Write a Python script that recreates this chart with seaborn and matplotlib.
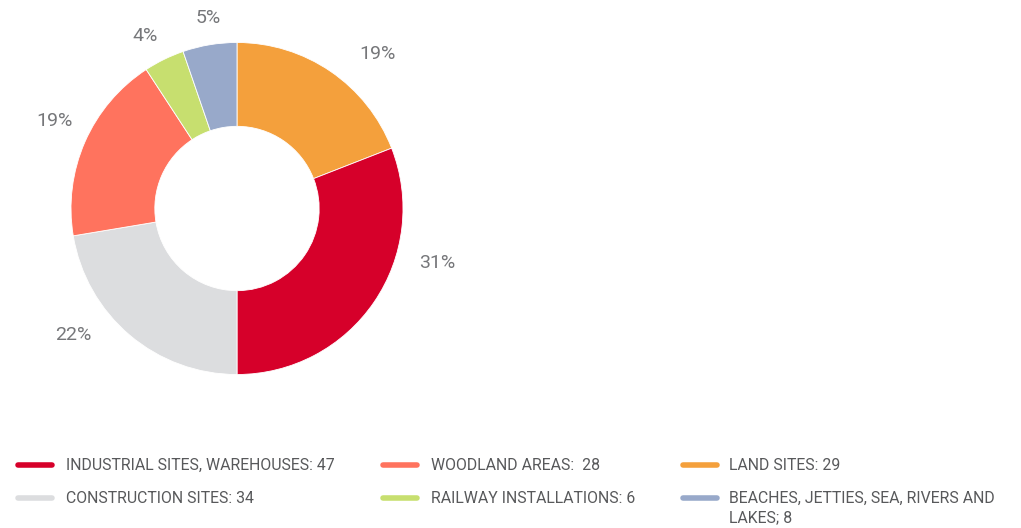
import numpy as np
import matplotlib.pyplot as plt
from matplotlib.lines import Line2D
import seaborn as sns

# pie data, clockwise from 12 o'clock
slices = ["LAND SITES", "INDUSTRIAL SITES, WAREHOUSES", "CONSTRUCTION SITES",
          "WOODLAND AREAS", "RAILWAY INSTALLATIONS", "BEACHES, JETTIES, SEA, RIVERS AND LAKES"]
counts = [29, 47, 34, 28, 6, 8]
pct_labels = ["19%", "31%", "22%", "19%", "4%", "5%"]
slice_colors = ["#F4A03C", "#D6002A", "#DCDDDF", "#FF735E", "#C7DF6F", "#98A9CA"]

# legend (row by row, 3 columns)
legend_labels = ["INDUSTRIAL SITES, WAREHOUSES: 47", "WOODLAND AREAS:  28", "LAND SITES: 29",
                 "CONSTRUCTION SITES: 34", "RAILWAY INSTALLATIONS: 6",
                 "BEACHES, JETTIES, SEA, RIVERS AND\nLAKES; 8"]
legend_colors = ["#D6002A", "#FF735E", "#F4A03C", "#DCDDDF", "#C7DF6F", "#98A9CA"]

# label placement tweaks (deg off the slice middle, radius)
label_shift = [-8, 19, -12, -2, 2, -1]
label_rad = [1.26, 1.25, 1.25, 1.22, 1.18, 1.16]

sns.set_theme(style="white")
plt.rcParams["font.family"] = ["Roboto", "DejaVu Sans"]

W, H = 1021, 528
fig = plt.figure(figsize=(W / 100, H / 100), dpi=100)

cx, cy, r = 237, 208.5, 166
ax = fig.add_axes([(cx - r) / W, (H - cy - r) / H, 2 * r / W, 2 * r / H])
wedges, _ = ax.pie(counts, colors=slice_colors, startangle=90, counterclock=False,
                   radius=1, wedgeprops=dict(width=0.505, edgecolor="white", linewidth=0.6))
ax.set_xlim(-1, 1)
ax.set_ylim(-1, 1)
ax.axis("off")

for w, lab, sh, rr in zip(wedges, pct_labels, label_shift, label_rad):
    mid = np.deg2rad((w.theta1 + w.theta2) / 2 + sh)
    ax.text(rr * np.cos(mid), rr * np.sin(mid), lab, ha="center", va="center",
            fontsize=14, color="#76777A", clip_on=False)

# legend drawn by hand, Highcharts style
col_handle = [18, 383, 683]
col_text = [66, 431, 729]
row_y = [465, 498]
for i, (lab, col) in enumerate(zip(legend_labels, legend_colors)):
    c, rw = i % 3, i // 3
    y = (H - row_y[rw]) / H
    fig.add_artist(Line2D([col_handle[c] / W, (col_handle[c] + 34) / W], [y, y],
                          transform=fig.transFigure, color=col, lw=4,
                          solid_capstyle="round"))
    fig.text(col_text[c] / W, (H - row_y[rw] + 7) / H, lab, ha="left", va="top",
             fontsize=11.4, color="#58595B", linespacing=1.35)

fig.savefig("out.png", dpi=100)
